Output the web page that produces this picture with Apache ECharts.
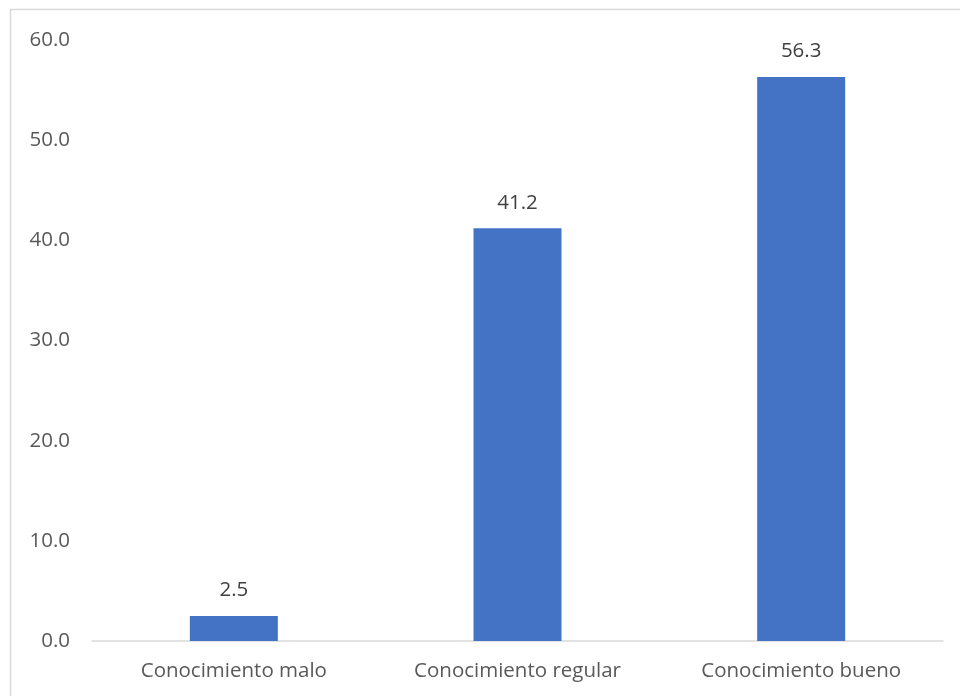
<!DOCTYPE html>
<html><head><meta charset="utf-8">
<script src="https://cdn.jsdelivr.net/npm/echarts@6/dist/echarts.min.js"></script>
<style>html,body{margin:0;padding:0;background:#fff}#c{width:960px;height:696px}</style>
</head><body><div id="c"></div>
<script>
const categories = ['Conocimiento malo', 'Conocimiento regular', 'Conocimiento bueno'];
const values = [2.5, 41.2, 56.3];
const chart = echarts.init(document.getElementById('c'), null, {renderer: 'canvas'});
const txt = '#595959';
const font = 'Open Sans';
chart.setOption({
  animation: false,
  graphic: [{type: 'rect', shape: {x: 10.5, y: 9.5, width: 960, height: 700}, style: {fill: 'none', stroke: '#d9d9d9', lineWidth: 1.5}, z: -1}],
  grid: {left: 92, right: 17, top: 40, bottom: 55},
  xAxis: {
    type: 'category', data: categories,
    axisLine: {lineStyle: {color: '#d9d9d9', width: 1.5}},
    axisTick: {show: false},
    axisLabel: {color: txt, fontFamily: font, fontSize: 20.5, margin: 20}
  },
  yAxis: {
    type: 'value', min: 0, max: 60, interval: 10,
    axisLine: {show: false}, axisTick: {show: false},
    splitLine: {show: false},
    axisLabel: {color: txt, fontFamily: font, fontSize: 20.5, margin: 22, formatter: v => v.toFixed(1)}
  },
  series: [{
    type: 'bar', data: values, barWidth: 88,
    itemStyle: {color: '#4472c4'},
    label: {show: true, position: 'top', distance: 15, color: '#404040', fontFamily: font, fontSize: 20.5, formatter: p => p.value.toFixed(1)}
  }]
});
</script></body></html>
